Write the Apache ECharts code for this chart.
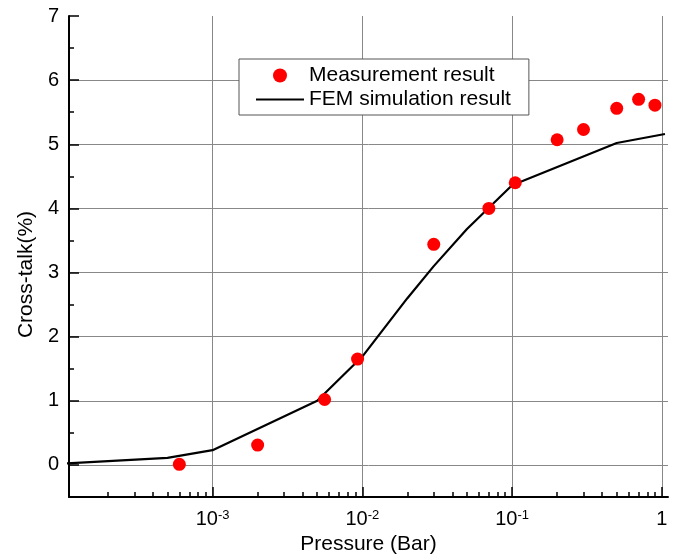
<!DOCTYPE html>
<html>
<head>
<meta charset="utf-8">
<script src="https://cdn.jsdelivr.net/npm/echarts@6/dist/echarts.min.js"></script>
<style>
    html, body {margin: 0; padding: 0; background: #fff;}
    #chart {width: 675px; height: 556px;}
</style>
</head>
<body>
<div id="chart"></div>
<script>
// Measured cross-talk (red dots)
const measPressure = [6e-4, 2e-3, 5.6e-3, 9.3e-3, 0.03, 0.07, 0.105, 0.2, 0.3, 0.5, 0.7, 0.9];
const measCrossTalk = [0.01, 0.31, 1.02, 1.65, 3.44, 4.0, 4.4, 5.07, 5.23, 5.56, 5.70, 5.61];

// FEM simulation (black line)
const femPressure = [1e-4, 5e-4, 1e-3, 5e-3, 1e-2, 2e-2, 3e-2, 5e-2, 0.1, 0.5, 1.05];
const femCrossTalk = [0.02, 0.11, 0.23, 1.0, 1.69, 2.60, 3.10, 3.68, 4.36, 5.02, 5.16];

// axis ticks
const xDecades = [1e-3, 1e-2, 1e-1, 1];
const xMinor = [];
for (const d of [1e-4, 1e-3, 1e-2, 1e-1]) {
    for (let k = 2; k <= 9; k++) xMinor.push(+(d * k).toPrecision(3));
}
const yMajor = [0, 1, 2, 3, 4, 5, 6, 7];
const yMinor = [0.5, 1.5, 2.5, 3.5, 4.5, 5.5, 6.5];

const font = '"Liberation Sans", Arial, Helvetica, sans-serif';
const xMin = 1.1e-4;
const xMax = 1.1;

const chart = echarts.init(document.getElementById('chart'), null, {renderer: 'canvas'});

function decadeLabel(v) {
    const e = Math.round(Math.log10(v));
    if (e === 0) return '1';
    return '10{sup|' + e + '}';
}

chart.setOption({
    animation: false,
    backgroundColor: '#fff',
    textStyle: {fontFamily: font},
    grid: {left: 69, right: 7, top: 16, bottom: 59, outerBoundsMode: 'none', containLabel: false},
    legend: {
        left: 239,
        top: 59,
        orient: 'vertical',
        backgroundColor: '#fff',
        borderColor: '#555',
        borderWidth: 1,
        borderRadius: 0,
        padding: [6, 18, 5, 16],
        itemGap: 3,
        itemWidth: 48,
        itemHeight: 14,
        textStyle: {fontSize: 21, color: '#000', fontFamily: font},
        data: [
            {name: 'Measurement result'},
            {name: 'FEM simulation result', itemStyle: {opacity: 0}},
        ],
    },
    xAxis: [{
        type: 'log',
        logBase: 10,
        min: xMin,
        max: xMax,
        name: 'Pressure (Bar)',
        nameLocation: 'middle',
        nameGap: 37,
        nameTextStyle: {fontSize: 21, color: '#000', fontFamily: font},
        axisLine: {onZero: false, lineStyle: {color: '#000', width: 2}},
        axisTick: {inside: true, length: 10, customValues: xDecades, lineStyle: {color: '#000', width: 1.5}},
        axisLabel: {
            customValues: xDecades,
            margin: 12,
            color: '#000',
            fontSize: 20,
            fontFamily: font,
            formatter: decadeLabel,
            rich: {
                sup: {fontSize: 13, verticalAlign: 'top', lineHeight: 14, color: '#000', fontFamily: font},
            },
        },
        splitLine: {show: true, lineStyle: {color: '#888', width: 1}},
    }, {
        type: 'log',
        logBase: 10,
        min: xMin,
        max: xMax,
        position: 'bottom',
        axisLine: {show: false, onZero: false},
        axisTick: {inside: true, length: 5, customValues: xMinor, lineStyle: {color: '#000', width: 1.5}},
        axisLabel: {show: false},
        splitLine: {show: false},
    }],
    yAxis: [{
        type: 'value',
        min: -0.5,
        max: 7,
        minInterval: 1,
        maxInterval: 1,
        name: 'Cross-talk(%)',
        nameLocation: 'middle',
        nameGap: 31,
        nameRotate: 90,
        nameTextStyle: {fontSize: 21, color: '#000', fontFamily: font, padding: [0, 36, 0, 0]},
        axisLine: {show: true, onZero: false, lineStyle: {color: '#000', width: 2}},
        axisTick: {show: true, inside: true, length: 10, customValues: yMajor, lineStyle: {color: '#000', width: 1.5}},
        axisLabel: {customValues: yMajor, margin: 10, color: '#000', fontSize: 20, fontFamily: font},
        splitLine: {show: true, showMaxLine: false, lineStyle: {color: '#888', width: 1}},
    }, {
        type: 'value',
        min: -0.5,
        max: 7,
        position: 'left',
        offset: 0,
        axisLine: {show: false, onZero: false},
        axisTick: {show: true, inside: true, length: 5, customValues: yMinor, lineStyle: {color: '#000', width: 1.5}},
        axisLabel: {show: false},
        splitLine: {show: false},
    }],
    series: [{
        name: 'Measurement result',
        type: 'scatter',
        symbol: 'circle',
        symbolSize: 13,
        itemStyle: {color: '#ff0000', opacity: 1},
        z: 4,
        data: measPressure.map((p, i) => [p, measCrossTalk[i]]),
    }, {
        name: 'FEM simulation result',
        type: 'line',
        symbol: 'none',
        smooth: false,
        clip: true,
        lineStyle: {color: '#000', width: 2.2},
        itemStyle: {color: '#000'},
        z: 3,
        data: femPressure.map((p, i) => [p, femCrossTalk[i]]),
    }],
});
</script>
</body>
</html>
